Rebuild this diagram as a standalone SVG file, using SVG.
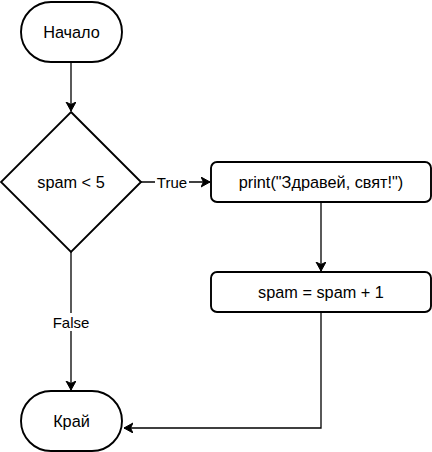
<svg xmlns="http://www.w3.org/2000/svg" width="432" height="452" viewBox="0 0 432 452">
<defs>
<style>
.shape{fill:#fff;stroke:#000;stroke-width:1.9}
.conn{fill:none;stroke:#000;stroke-width:1.3}
.t{font-family:"Liberation Sans",Arial,sans-serif;font-size:16.3px;fill:#000;text-anchor:middle}
.lbl{font-family:"Liberation Sans",Arial,sans-serif;font-size:15px;fill:#000;text-anchor:middle}
</style>
<marker id="arr" markerUnits="userSpaceOnUse" markerWidth="12" markerHeight="12" refX="9" refY="5" orient="auto">
<path d="M0,0 L9,5 L0,10 L2.5,5 z" fill="#000" stroke="#000" stroke-width="1"/>
</marker>
</defs>
<g id="connectors">
<path class="conn" d="M71,62 V111" marker-end="url(#arr)"/>
<path class="conn" d="M141,182 H210" marker-end="url(#arr)"/>
<path class="conn" d="M71,252 V390" marker-end="url(#arr)"/>
<path class="conn" d="M321,202 V271" marker-end="url(#arr)"/>
<path class="conn" d="M321,312 V428 H124" marker-end="url(#arr)"/>
<rect x="155" y="173" width="34" height="18" fill="#fff"/>
<text class="lbl" x="172" y="187.5">True</text>
<rect x="50" y="313" width="42" height="18" fill="#fff"/>
<text class="lbl" x="71" y="327.5">False</text>
</g>
<g id="start">
<rect class="shape" x="21" y="2" width="101" height="60" rx="30" ry="30"/>
<text class="t" x="71.5" y="37.5">Начало</text>
</g>
<g id="cond">
<polygon class="shape" points="71,112 141,182 71,252 1,182"/>
<text class="t" x="71" y="188">spam &lt; 5</text>
</g>
<g id="print">
<rect class="shape" x="211" y="162" width="220" height="40" rx="6" ry="6"/>
<text class="t" x="321" y="188">print("Здравей, свят!")</text>
</g>
<g id="incr">
<rect class="shape" x="211" y="272" width="220" height="40" rx="6" ry="6"/>
<text class="t" x="321" y="298">spam = spam + 1</text>
</g>
<g id="end">
<rect class="shape" x="21" y="391" width="101" height="60" rx="30" ry="30"/>
<text class="t" x="71.5" y="426.5">Край</text>
</g>
</svg>
